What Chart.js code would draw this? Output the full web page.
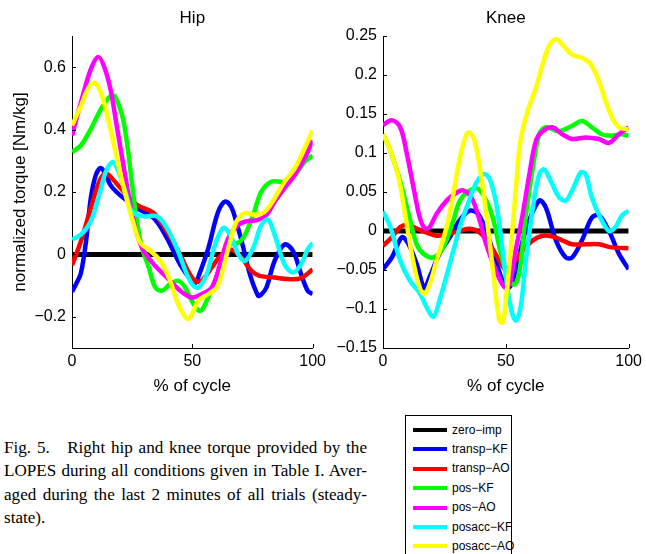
<!DOCTYPE html>
<html><head><meta charset="utf-8">
<script src="https://cdn.jsdelivr.net/npm/chart.js@4.4.0/dist/chart.umd.min.js"></script>
<style>
html,body{margin:0;padding:0;background:#fff}
body{width:646px;height:554px;overflow:hidden;position:relative;font-family:"Liberation Sans",Arial,sans-serif}
#hip{position:absolute;left:0;top:0}
#knee{position:absolute;left:320px;top:0}
#caption{position:absolute;left:4px;top:436px;width:363px;font-family:"Liberation Serif","Times New Roman",serif;font-size:17.1px;line-height:23.4px;color:#000}
#caption div{text-align:justify;text-align-last:justify}
#caption div.last{text-align-last:left}
#legend{position:absolute;left:405px;top:415px;width:107px;height:150px;border:1px solid #000;background:#fff;box-sizing:border-box}
.row{position:absolute;left:0;height:19px;width:100%}
.row span.ln{position:absolute;left:7px;top:7.5px;width:34px;height:4px}
.row span.tx{position:absolute;left:46px;top:0;font-size:12px;line-height:19px;color:#000}
</style>
</head><body>
<canvas id="hip" width="330" height="400"></canvas>
<canvas id="knee" width="326" height="400"></canvas>
<div id="caption">
<div>Fig. 5.&nbsp;&nbsp; Right hip and knee torque provided by the</div>
<div>LOPES during all conditions given in Table I. Aver-</div>
<div>aged during the last 2 minutes of all trials (steady-</div>
<div class="last">state).</div>
</div>
<div id="legend"></div>
<script>
// ---- series names & colours ----
const seriesNames = ['zero-imp','transp-KF','transp-AO','pos-KF','pos-AO','posacc-KF','posacc-AO'];
const seriesColors = ['#000000','#0000ff','#ff0000','#00ff00','#ff00ff','#00ffff','#ffff00'];

// ---- axis ticks ----
const xTicks = [0, 50, 100];
const xTickLabels = ['0', '50', '100'];
const hipYTicks = [-0.2, 0, 0.2, 0.4, 0.6];
const hipYTickLabels = ['\u22120.2', '0', '0.2', '0.4', '0.6'];
const kneeYTicks = [-0.15, -0.1, -0.05, 0, 0.05, 0.1, 0.15, 0.2, 0.25];
const kneeYTickLabels = ['\u22120.15', '\u22120.1', '\u22120.05', '0', '0.05', '0.1', '0.15', '0.2', '0.25'];

// ---- Hip series: [% of cycle, torque] ----
const hipZeroImp = [[0,0],[100,0]];
const hipTranspKF = [[0,-0.12],[2,-0.09],[3.7,-0.06],[5.8,0.04],[7.8,0.18],[9.9,0.254],[12,0.277],[14,0.255],[16,0.222],[18.5,0.2],[21.6,0.18],[27,0.148],[34,0.116],[39.4,0.053],[44.9,-0.032],[49.7,-0.085],[51.2,-0.092],[52.6,-0.07],[56.7,0.021],[59.5,0.106],[61.5,0.15],[63.6,0.169],[65.5,0.16],[67,0.137],[70.5,0.042],[73.9,-0.063],[77.3,-0.132],[78.5,-0.13],[80.8,-0.106],[84.2,-0.021],[88.3,0.032],[91.8,0.011],[95.2,-0.063],[97.9,-0.116],[100,-0.127]];
const hipTranspAO = [[0,-0.035],[3.7,0.042],[7.8,0.148],[11.3,0.233],[14,0.26],[17,0.24],[20.2,0.212],[27,0.159],[34,0.132],[39.4,0.074],[44.9,0],[48,-0.05],[50.4,-0.08],[53,-0.088],[55,-0.075],[58.1,-0.042],[62.2,0],[66.3,0.015],[70.5,-0.011],[74.6,-0.053],[78,-0.069],[84.2,-0.074],[89.7,-0.079],[95.2,-0.076],[100,-0.048]];
const hipPosKF = [[0,0.328],[3.7,0.349],[7.8,0.402],[12,0.466],[15.4,0.503],[17,0.51],[18.1,0.503],[20.9,0.444],[23,0.349],[25,0.222],[27,0.106],[29.1,0.021],[31.9,-0.042],[34.6,-0.106],[37.4,-0.116],[40.8,-0.095],[44.2,-0.085],[47,-0.106],[49.7,-0.148],[52.6,-0.18],[54,-0.178],[56,-0.148],[59.5,-0.085],[62.9,-0.011],[65.7,0.032],[69.1,0.037],[71.9,0.063],[75.3,0.127],[78.7,0.201],[82.8,0.233],[88.3,0.233],[92.5,0.254],[96.6,0.296],[100,0.317]];
const hipPosAO = [[0,0.381],[3.7,0.487],[7.8,0.593],[10.9,0.633],[13.3,0.603],[16,0.529],[18.8,0.402],[21.6,0.275],[24.3,0.159],[27,0.063],[29.8,0.011],[34,-0.032],[39.4,-0.074],[44.9,-0.116],[48.5,-0.135],[50.4,-0.138],[54,-0.127],[58.1,-0.106],[61.5,-0.032],[65,0.053],[69.1,0.095],[72.5,0.106],[77.3,0.111],[80.8,0.127],[84.2,0.169],[88.3,0.212],[92.5,0.254],[96.6,0.307],[100,0.365]];
const hipPosaccKF = [[0,0.048],[3.7,0.063],[7.8,0.106],[11.3,0.19],[14,0.264],[16.8,0.296],[18.8,0.275],[22.2,0.2],[25,0.137],[29.8,0.122],[35.3,0.122],[39.4,0.085],[43.5,0.021],[47.7,-0.063],[50.4,-0.1],[52.6,-0.106],[56,-0.063],[59.5,0.032],[62.9,0.085],[65.7,0.063],[69.1,0],[71.9,-0.021],[75.3,0.021],[78.7,0.095],[81.5,0.111],[84.2,0.063],[88.3,-0.032],[91.8,-0.058],[95.2,-0.032],[97.9,0.016],[100,0.037]];
const hipPosaccAO = [[0,0.413],[3.7,0.476],[6.5,0.529],[9.2,0.55],[12,0.518],[14.7,0.444],[17.5,0.349],[20.2,0.254],[23,0.169],[25.7,0.095],[28.4,0.037],[32.6,0.011],[36.7,-0.021],[40.8,-0.085],[43.5,-0.148],[47,-0.201],[48.5,-0.207],[50,-0.19],[52.6,-0.148],[56.7,-0.127],[60.2,-0.106],[62.9,-0.042],[65.7,0.042],[68.4,0.106],[71.9,0.132],[76,0.127],[80.1,0.137],[84.2,0.18],[88.3,0.233],[92.5,0.275],[96.6,0.339],[100,0.397]];

// ---- Knee series ----
const kneeZeroImp = [[0,0],[100,0]];
const kneeTranspKF = [[0,-0.049],[3.6,-0.034],[7.7,-0.008],[10.4,-0.017],[13.7,-0.042],[16.8,-0.073],[19,-0.059],[23,-0.029],[27.2,-0.008],[31,0.013],[35.3,0.026],[38.7,0.022],[42,0],[46,-0.038],[48.8,-0.064],[51.5,-0.072],[54,-0.051],[58,0],[63.6,0.039],[66.3,0.03],[70.4,-0.012],[74.4,-0.034],[77,-0.034],[81,-0.012],[85,0.017],[87.9,0.02],[92,0],[96,-0.029],[100,-0.049]];
const kneeTranspAO = [[0,-0.019],[3.6,-0.008],[7,0.005],[10.4,0.008],[13.7,0.003],[17.8,-0.002],[21.8,-0.006],[25.9,-0.004],[31.3,0],[35.3,0.003],[39.4,-0.002],[43.4,-0.017],[47.4,-0.038],[50,-0.05],[52.8,-0.042],[56.9,-0.025],[61,-0.012],[65,-0.006],[69,-0.007],[73,-0.012],[77,-0.017],[82.5,-0.017],[87.9,-0.017],[93,-0.021],[100,-0.022]];
const kneePosKF = [[0,0.124],[3,0.103],[7,0.064],[10.4,0.022],[13.7,-0.017],[16.4,-0.029],[20.5,-0.034],[24.5,-0.021],[28.6,0.013],[31.3,0.039],[35.3,0.052],[38.7,0.054],[42,0.039],[44.7,0.017],[48,-0.029],[51.5,-0.064],[54,-0.068],[56,-0.042],[58,0.017],[61,0.081],[63.6,0.124],[66.3,0.133],[71.7,0.128],[77,0.135],[81,0.141],[85,0.133],[89,0.124],[93,0.122],[97,0.124],[100,0.122]];
const kneePosAO = [[0,0.136],[3.6,0.142],[7,0.133],[9.7,0.099],[12.4,0.056],[15,0.017],[17.1,0.003],[19,0.005],[21.8,0.022],[25.9,0.039],[29.9,0.049],[32.6,0.052],[36,0.043],[39.4,0.013],[42,-0.017],[46,-0.051],[49.5,-0.072],[51.5,-0.068],[54,-0.025],[56.9,0.022],[59.6,0.073],[62.3,0.116],[65,0.128],[69,0.133],[73,0.124],[77,0.118],[82.5,0.12],[87.9,0.118],[92,0.113],[96,0.124],[100,0.133]];
const kneePosaccKF = [[0,0.025],[3,0.005],[7,-0.038],[11,-0.064],[15,-0.08],[17.8,-0.098],[20.5,-0.11],[23,-0.089],[27.2,-0.042],[31.3,0.005],[34.6,0.035],[38,0.062],[41.4,0.073],[44,0.062],[46.8,0.022],[49.5,-0.046],[52,-0.098],[54,-0.115],[56,-0.098],[58,-0.042],[61,0.03],[63.6,0.073],[65.6,0.079],[68.3,0.064],[71.7,0.043],[74.4,0.039],[77,0.052],[80.5,0.075],[82.5,0.073],[85,0.043],[88.5,0.017],[92,0],[94.6,0.005],[97.3,0.02],[100,0.026]];
const kneePosaccAO = [[0,0.124],[3,0.103],[6.3,0.069],[9,0.022],[11.7,-0.029],[14.4,-0.067],[16.7,-0.081],[19,-0.068],[21.8,-0.038],[25.9,0.005],[28.6,0.047],[31.3,0.094],[34,0.124],[35.3,0.126],[37.3,0.116],[40,0.069],[42.7,0.005],[45.4,-0.068],[47.4,-0.115],[48.8,-0.117],[50,-0.089],[52,-0.025],[54,0.052],[56,0.116],[58.9,0.154],[62.3,0.184],[65,0.214],[67.6,0.237],[70.4,0.246],[73,0.239],[77,0.226],[81,0.222],[84.5,0.214],[87.9,0.192],[90.6,0.167],[93.3,0.145],[96,0.133],[100,0.13]];

const hipSeries = [hipZeroImp, hipTranspKF, hipTranspAO, hipPosKF, hipPosAO, hipPosaccKF, hipPosaccAO];
const kneeSeries = [kneeZeroImp, kneeTranspKF, kneeTranspAO, kneePosKF, kneePosAO, kneePosaccKF, kneePosaccAO];

const FONT = '"Liberation Sans", Arial, Helvetica, sans-serif';

const inwardTicks = {
  id: 'inwardTicks',
  afterDatasetsDraw(chart) {
    const ctx = chart.ctx;
    const xs = chart.scales.x, ys = chart.scales.y;
    const a = chart.chartArea;
    ctx.save();
    ctx.strokeStyle = '#000';
    ctx.lineWidth = 1;
    ctx.beginPath();
    xs.ticks.forEach(t => {
      const px = Math.round(xs.getPixelForValue(t.value)) + 0.5;
      ctx.moveTo(px, a.bottom); ctx.lineTo(px, a.bottom - 4);
    });
    ys.ticks.forEach(t => {
      const py = Math.round(ys.getPixelForValue(t.value)) + 0.5;
      ctx.moveTo(a.left, py); ctx.lineTo(a.left + 4, py);
    });
    ctx.stroke();
    ctx.restore();
  }
};

function makeChart(id, title, series, yMin, yMax, yTicks, yLabels, yWidth, yTitle, padRight) {
  const datasets = series.map((s, i) => ({
    label: seriesNames[i],
    data: s.map(p => ({x: p[0], y: p[1]})),
    borderColor: seriesColors[i],
    backgroundColor: seriesColors[i],
    borderWidth: i === 0 ? 5 : 4.5,
    pointRadius: 0,
    tension: 0.35,
    fill: false,
    order: series.length - i
  }));
  return new Chart(document.getElementById(id), {
    type: 'line',
    data: {datasets},
    plugins: [inwardTicks],
    options: {
      responsive: false,
      animation: false,
      devicePixelRatio: 1,
      layout: {padding: {left: 0, right: padRight, top: 0, bottom: 0}},
      plugins: {
        legend: {display: false},
        tooltip: {enabled: false},
        title: {display: true, text: title, color: '#000', fullSize: false,
          font: {family: FONT, size: 17, weight: 'normal'}, padding: {top: 8, bottom: 7.6}}
      },
      scales: {
        x: {
          type: 'linear', min: 0, max: 100,
          afterBuildTicks: s => { s.ticks = xTicks.map(v => ({value: v})); },
          afterFit: s => { s.height = 52; },
          ticks: {color: '#000', font: {family: FONT, size: 16}, padding: 4, maxRotation: 0, autoSkip: false,
            callback: (v, i) => xTickLabels[i]},
          grid: {display: true, drawOnChartArea: false, drawTicks: false},
          border: {display: true, color: '#000', width: 1},
          title: {display: true, text: '% of cycle', color: '#000', font: {family: FONT, size: 17}, padding: {top: 0, bottom: 3}}
        },
        y: {
          type: 'linear', min: yMin, max: yMax,
          afterBuildTicks: s => { s.ticks = yTicks.map(v => ({value: v})); },
          afterFit: s => { s.width = yWidth; },
          ticks: {color: '#000', font: {family: FONT, size: 16}, padding: 6, autoSkip: false,
            callback: (v, i) => yLabels[i]},
          grid: {display: true, drawOnChartArea: false, drawTicks: false},
          border: {display: true, color: '#000', width: 1},
          title: {display: !!yTitle, text: yTitle || '', color: '#000', font: {family: FONT, size: 17}, padding: {top: 10, bottom: 0}}
        }
      }
    }
  });
}

makeChart('hip', 'Hip', hipSeries, -0.3, 0.7, hipYTicks, hipYTickLabels, 72, 'normalized torque [Nm/kg]', 15);
makeChart('knee', 'Knee', kneeSeries, -0.15, 0.25, kneeYTicks, kneeYTickLabels, 63, '', 16);

// legend
const lg = document.getElementById('legend');
seriesNames.forEach((n, i) => {
  const r = document.createElement('div');
  r.className = 'row';
  r.style.top = (4.5 + i * 19.4) + 'px';
  r.innerHTML = '<span class="ln" style="background:' + seriesColors[i] + '"></span><span class="tx">' + n.replace('-', '\u2212') + '</span>';
  lg.appendChild(r);
});
</script>
</body></html>
